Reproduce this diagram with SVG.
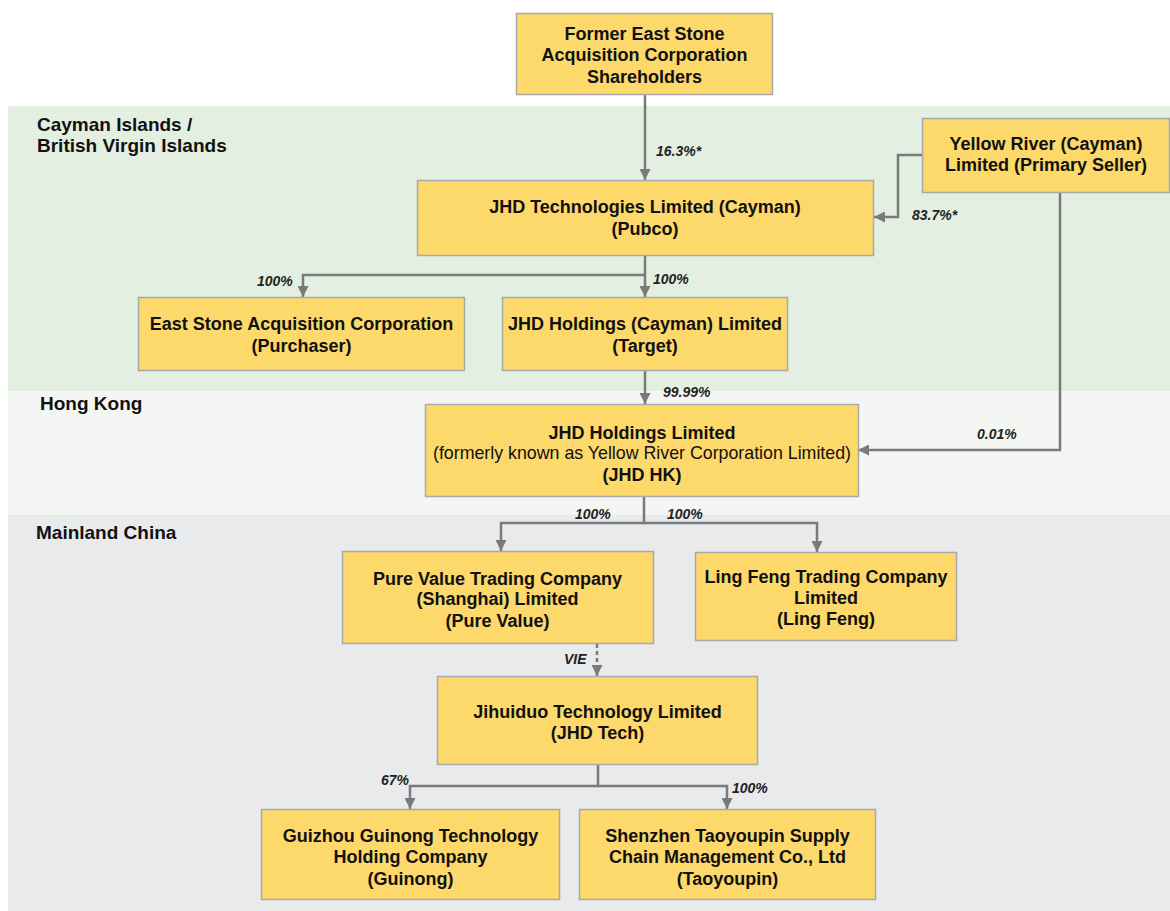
<svg xmlns="http://www.w3.org/2000/svg" width="1170" height="911" viewBox="0 0 1170 911">
<style>
.box{fill:#fdd86a;stroke:#a9a9a9;stroke-width:1.5}
.t{font-family:"Liberation Sans",Arial,sans-serif;font-weight:bold;font-size:18px;fill:#111;text-anchor:middle}
.tn{font-family:"Liberation Sans",Arial,sans-serif;font-weight:normal;font-size:17.8px;fill:#111;text-anchor:middle}
.rg{font-family:"Liberation Sans",Arial,sans-serif;font-weight:bold;font-size:19px;fill:#111}
.lb{font-family:"Liberation Sans",Arial,sans-serif;font-weight:bold;font-style:italic;font-size:14px;fill:#222}
.ln{fill:none;stroke:#7a7a7c;stroke-width:2.5}
.dash{stroke-dasharray:4,3}
</style>
<defs>
<marker id="ah" viewBox="0 0 10 10" refX="10" refY="5" markerWidth="4.4" markerHeight="4.4" orient="auto" markerUnits="strokeWidth">
<path d="M0,0 L10,5 L0,10 z" fill="#7a7a7c"/>
</marker>
</defs>
<rect x="0" y="0" width="1170" height="911" fill="#ffffff"/>
<g id="bands">
<rect x="8" y="106" width="1162" height="285" fill="#e3efe0"/>
<rect x="8" y="391" width="1162" height="124" fill="#f4f6f4"/>
<rect x="8" y="515" width="1162" height="396" fill="#e9eaec"/>
<text class="rg" x="37" y="131">Cayman Islands /</text>
<text class="rg" x="37" y="152">British Virgin Islands</text>
<text class="rg" x="40" y="410">Hong Kong</text>
<text class="rg" x="36" y="539">Mainland China</text>
</g>
<g id="connectors">
<path class="ln" d="M645,94 V180" marker-end="url(#ah)"/>
<path class="ln" d="M922,155 H898 V217 H874" marker-end="url(#ah)"/>
<path class="ln" d="M1060,192 V450 H858" marker-end="url(#ah)"/>
<path class="ln" d="M645,255 V297" marker-end="url(#ah)"/>
<path class="ln" d="M645,275 H303 V297" marker-end="url(#ah)"/>
<path class="ln" d="M645,370 V404" marker-end="url(#ah)"/>
<path class="ln" d="M644,496 V523 H501 V551" marker-end="url(#ah)"/>
<path class="ln" d="M644,523 H817 V552" marker-end="url(#ah)"/>
<path class="ln dash" d="M597,644 V676" marker-end="url(#ah)"/>
<path class="ln" d="M598,764 V786 H410 V809" marker-end="url(#ah)"/>
<path class="ln" d="M598,786 H727 V809" marker-end="url(#ah)"/>
<text class="lb" x="656" y="156">16.3%*</text>
<text class="lb" x="912" y="220">83.7%*</text>
<text class="lb" x="977" y="439">0.01%</text>
<text class="lb" x="257" y="286">100%</text>
<text class="lb" x="653" y="284">100%</text>
<text class="lb" x="663" y="397">99.99%</text>
<text class="lb" x="575" y="519">100%</text>
<text class="lb" x="667" y="519">100%</text>
<text class="lb" x="564" y="664">VIE</text>
<text class="lb" x="381" y="785">67%</text>
<text class="lb" x="732" y="793">100%</text>
</g>
<g id="former">
<rect class="box" x="516.5" y="13.5" width="256" height="81"/>
<text class="t" x="644.5" y="39.5">Former East Stone</text>
<text class="t" x="644.5" y="61">Acquisition Corporation</text>
<text class="t" x="644.5" y="82.5">Shareholders</text>
</g>
<g id="pubco">
<rect class="box" x="417.5" y="180.5" width="456" height="75"/>
<text class="t" x="645" y="213">JHD Technologies Limited (Cayman)</text>
<text class="t" x="645" y="235">(Pubco)</text>
</g>
<g id="yellowriver">
<rect class="box" x="922.5" y="118.5" width="247" height="74"/>
<text class="t" x="1046" y="149.5">Yellow River (Cayman)</text>
<text class="t" x="1046" y="170.5">Limited (Primary Seller)</text>
</g>
<g id="purchaser">
<rect class="box" x="138.5" y="297.5" width="326" height="73"/>
<text class="t" x="301.5" y="329.5">East Stone Acquisition Corporation</text>
<text class="t" x="301.5" y="352">(Purchaser)</text>
</g>
<g id="target">
<rect class="box" x="502.5" y="297.5" width="285" height="73"/>
<text class="t" x="645" y="329.5">JHD Holdings (Cayman) Limited</text>
<text class="t" x="645" y="352">(Target)</text>
</g>
<g id="jhdhk">
<rect class="box" x="425.5" y="404.5" width="433" height="92"/>
<text class="t" x="642" y="438.5">JHD Holdings Limited</text>
<text class="tn" x="642" y="459">(formerly known as Yellow River Corporation Limited)</text>
<text class="t" x="642" y="480.5">(JHD HK)</text>
</g>
<g id="purevalue">
<rect class="box" x="342.5" y="551.5" width="311" height="92"/>
<text class="t" x="497.5" y="584.5">Pure Value Trading Company</text>
<text class="t" x="497.5" y="605">(Shanghai) Limited</text>
<text class="t" x="497.5" y="626.5">(Pure Value)</text>
</g>
<g id="lingfeng">
<rect class="box" x="695.5" y="552.5" width="261" height="88"/>
<text class="t" x="826" y="582.5">Ling Feng Trading Company</text>
<text class="t" x="826" y="604">Limited</text>
<text class="t" x="826" y="625">(Ling Feng)</text>
</g>
<g id="jhdtech">
<rect class="box" x="437.5" y="676.5" width="320" height="88"/>
<text class="t" x="597.5" y="717.5">Jihuiduo Technology Limited</text>
<text class="t" x="597.5" y="739">(JHD Tech)</text>
</g>
<g id="guinong">
<rect class="box" x="261.5" y="809.5" width="298" height="90"/>
<text class="t" x="410.5" y="841.5">Guizhou Guinong Technology</text>
<text class="t" x="410.5" y="863">Holding Company</text>
<text class="t" x="410.5" y="884.5">(Guinong)</text>
</g>
<g id="taoyoupin">
<rect class="box" x="579.5" y="809.5" width="296" height="90"/>
<text class="t" x="727.5" y="841.5">Shenzhen Taoyoupin Supply</text>
<text class="t" x="727.5" y="863">Chain Management Co., Ltd</text>
<text class="t" x="727.5" y="884.5">(Taoyoupin)</text>
</g>
</svg>
